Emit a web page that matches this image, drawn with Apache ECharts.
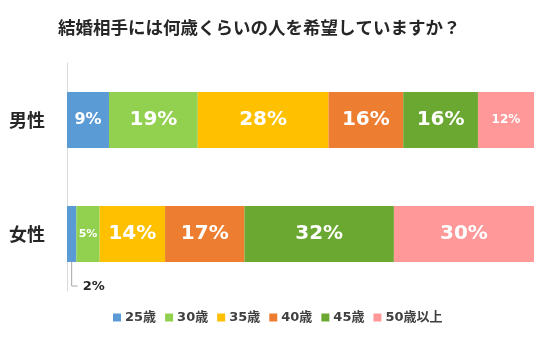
<!DOCTYPE html>
<html>
<head>
<meta charset="utf-8">
<script src="https://cdn.jsdelivr.net/npm/echarts@6/dist/echarts.min.js"></script>
<style>
  html, body { margin: 0; padding: 0; background: #fff; }
  #chart { width: 549px; height: 340px; }
</style>
</head>
<body>
<div id="chart"></div>
<script>
// 結婚相手に希望する年齢（男女別、%）
const titleText = '結婚相手には何歳くらいの人を希望していますか？';
const genders = ['男性', '女性'];
const ageGroups = ['25歳', '30歳', '35歳', '40歳', '45歳', '50歳以上'];
const share25 = [9, 2];
const share30 = [19, 5];
const share35 = [28, 14];
const share40 = [16, 17];
const share45 = [16, 32];
const share50plus = [12, 30];

const seriesValues = [share25, share30, share35, share40, share45, share50plus];
const colors = ['#5B9BD5', '#92D050', '#FFC000', '#ED7D31', '#6AA832', '#FF9999'];

const numFont = '"DejaVu Sans", "Noto Sans CJK JP", sans-serif';
const jpFont = '"Noto Sans CJK JP", "DejaVu Sans", sans-serif';
const BAR_WIDTH = 56;
const LEADER_DROP = 24;   // vertical run of the leader line below the bar
const LEADER_RUN = 6;     // horizontal run toward the label

// narrow segments get smaller labels
function labelSize(v) {
  if (v <= 5) return 11;
  if (v <= 9) return 16;
  if (v <= 12) return 12;
  return 20;
}

// segments too thin to hold their label: label goes below the bar on a leader line
const isTiny = (v) => v <= 2;

const barSeries = seriesValues.map((vals, si) => ({
  name: ageGroups[si],
  type: 'bar',
  stack: 'total',
  barWidth: BAR_WIDTH,
  itemStyle: { color: colors[si] },
  labelLayout: function (p) {
    if (!isTiny(vals[p.dataIndex])) return {};
    return {
      x: p.rect.x + p.rect.width / 2 + LEADER_RUN + 5,
      y: p.rect.y + p.rect.height + LEADER_DROP + 1,
      align: 'left',
      verticalAlign: 'middle'
    };
  },
  data: vals.map((v) => ({
    value: v,
    label: {
      show: true,
      position: 'inside',
      formatter: '{c}%',
      color: isTiny(v) ? '#262626' : '#ffffff',
      fontFamily: numFont,
      fontWeight: 'bold',
      fontSize: isTiny(v) ? 13 : labelSize(v)
    }
  }))
}));

// leader lines for thin segments: [category index, stack base, value]
const leaderData = [];
genders.forEach((g, ci) => {
  let base = 0;
  seriesValues.forEach((vals) => {
    if (isTiny(vals[ci])) leaderData.push([ci, base, vals[ci]]);
    base += vals[ci];
  });
});

const leaderSeries = {
  type: 'custom',
  silent: true,
  data: leaderData,
  encode: { x: [1, 2], y: 0 },
  renderItem: function (params, api) {
    const ci = api.value(0);
    const base = api.value(1);
    const v = api.value(2);
    const a = api.coord([base, ci]);
    const b = api.coord([base + v, ci]);
    const x = (a[0] + b[0]) / 2;
    const y0 = a[1] + BAR_WIDTH / 2;
    const y1 = y0 + LEADER_DROP;
    return {
      type: 'polyline',
      shape: { points: [[x, y0], [x, y1], [x + LEADER_RUN, y1]] },
      style: { stroke: '#a6a6a6', lineWidth: 1, fill: null }
    };
  },
  z: 3
};

const chart = echarts.init(document.getElementById('chart'), null, { renderer: 'canvas' });
chart.setOption({
  animation: false,
  backgroundColor: '#ffffff',
  title: {
    text: titleText,
    left: 58,
    top: 19,
    padding: 0,
    textStyle: {
      fontFamily: jpFont,
      fontWeight: 'bold',
      fontSize: 17.5,
      color: '#262626'
    }
  },
  legend: {
    data: ageGroups,
    left: 113,
    top: 311,
    padding: 0,
    itemWidth: 8,
    itemHeight: 8,
    itemGap: 9,
    icon: 'rect',
    textStyle: {
      fontFamily: numFont,
      fontWeight: 'bold',
      fontSize: 13,
      color: '#404040',
      padding: [0, 0, 0, -1]
    }
  },
  grid: { left: 67, right: 15, top: 63, bottom: 49, containLabel: false },
  xAxis: {
    type: 'value',
    min: 0,
    max: 100,
    show: false
  },
  yAxis: {
    type: 'category',
    data: genders,
    inverse: true,
    axisLine: { show: true, lineStyle: { color: '#d9d9d9', width: 1 } },
    axisTick: { show: false },
    axisLabel: {
      margin: 22,
      fontFamily: jpFont,
      fontWeight: 'bold',
      fontSize: 18,
      color: '#262626'
    }
  },
  series: barSeries.concat([leaderSeries])
});
</script>
</body>
</html>
